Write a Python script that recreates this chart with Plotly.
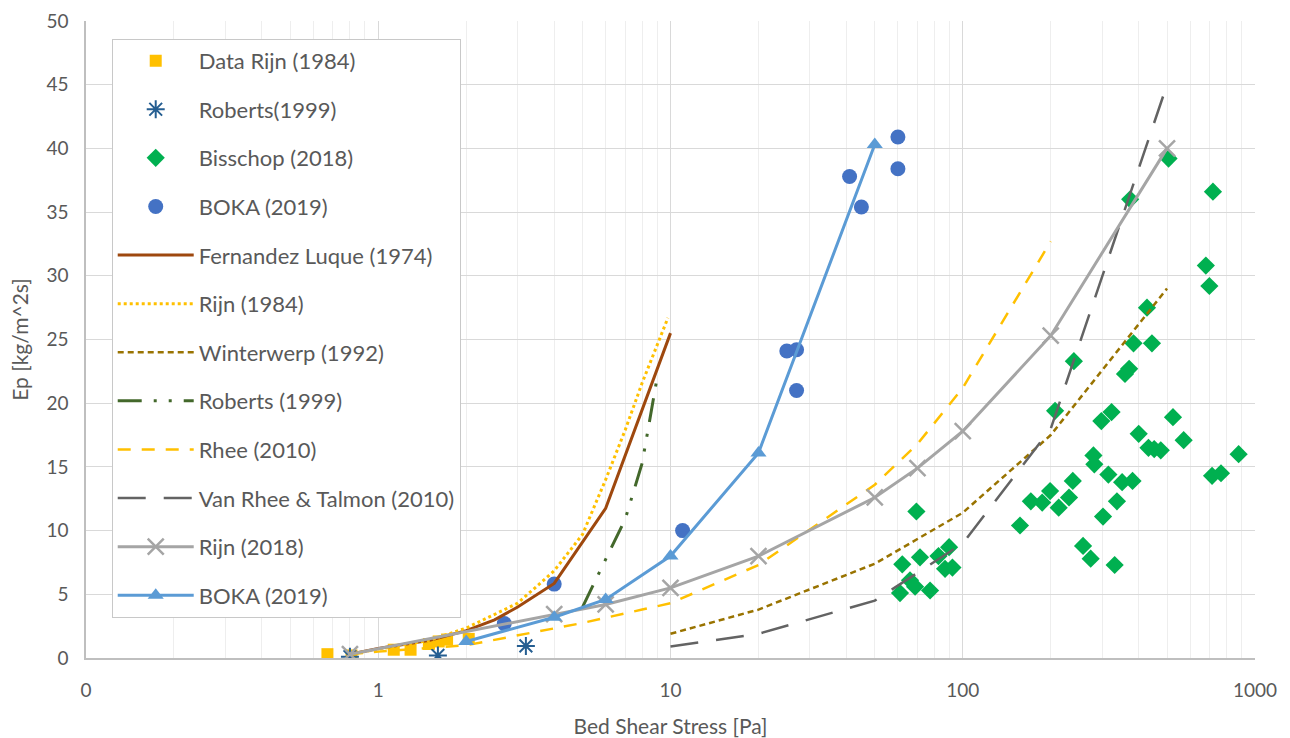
import plotly.graph_objects as go

# ---- measured data -------------------------------------------------------
rijn84_data_x = [0.67, 0.81, 1.13, 1.29, 1.49, 1.61, 1.72, 2.04]
rijn84_data_y = [0.3, 0.2, 0.65, 0.65, 1.1, 1.3, 1.45, 1.5]

roberts_data_x = [0.8, 1.6, 3.2]
roberts_data_y = [0.1, 0.2, 0.95]

bisschop_x = [506, 374, 718, 679, 698, 427, 384, 444, 240, 371, 359, 207, 323,
              298, 524, 400, 570, 432, 452, 476, 879, 280, 282, 315, 713, 765,
              351, 381, 238, 199, 231, 171, 187, 337, 69.4, 213, 157, 302, 258,
              274, 331, 62.1, 71.4, 82.6, 89.8, 87, 92.2, 66, 68.7, 61, 77.3]
bisschop_y = [39.2, 36.0, 36.6, 30.8, 29.2, 27.5, 24.7, 24.7, 23.3, 22.7, 22.3,
              19.4, 19.3, 18.6, 18.9, 17.6, 17.1, 16.5, 16.4, 16.3, 16.0, 15.9,
              15.2, 14.4, 14.3, 14.5, 13.8, 13.9, 13.9, 13.1, 12.6, 12.3, 12.2,
              12.3, 11.5, 11.8, 10.4, 11.1, 8.8, 7.8, 7.3, 7.35, 7.9, 8.0, 8.7,
              7.0, 7.1, 6.1, 5.6, 5.1, 5.3]

boka_data_x = [2.7, 4, 11, 25, 27, 27, 41, 45, 60, 60]
boka_data_y = [2.7, 5.8, 10.0, 24.1, 24.2, 21.0, 37.8, 35.4, 40.9, 38.4]

fernandez_x = [0.8, 1, 1.5, 2, 2.5, 3, 4, 6, 10]
fernandez_y = [0.3, 0.75, 1.4, 2.15, 3.0, 4.0, 5.85, 11.75, 25.5]

rijn84_x = [0.8, 1, 1.5, 2, 3, 4, 5, 6, 7, 8, 9, 9.8]
rijn84_y = [0.3, 0.7, 1.4, 2.35, 4.3, 6.85, 9.7, 14.0, 17.9, 21.6, 24.6, 26.7]

winterwerp_x = [10, 20, 50, 100, 200, 500]
winterwerp_y = [1.9, 3.8, 7.4, 11.4, 17.5, 29.0]

roberts_x = [5, 6, 7, 8, 9]
roberts_y = [4.0, 7.8, 10.9, 15.3, 22.0]

rhee_x = [0.8, 1, 2, 3, 5, 8, 10, 20, 50, 70, 100, 200]
rhee_y = [0.3, 0.5, 1.0, 1.8, 2.75, 3.8, 4.3, 7.3, 13.6, 16.8, 21.2, 32.7]

vrt_x = [10, 20, 50, 100, 200, 500]
vrt_y = [0.9, 1.9, 4.5, 9.0, 18.0, 45.0]

rijn18_x = [0.8, 4, 6, 10, 20, 50, 70, 100, 200, 500]
rijn18_y = [0.3, 3.45, 4.2, 5.5, 8.0, 12.6, 14.9, 17.8, 25.3, 40.0]

boka_x = [2, 4, 6, 10, 20, 50]
boka_y = [1.3, 3.2, 4.6, 8.0, 16.1, 40.3]

x_tick_vals = [0.1, 1, 10, 100, 1000]
x_tick_text = ["0", "1", "10", "100", "1000"]

FONT = "Lato"
TXT = "#595959"

fig = go.Figure()
_group = [0]

def next_group():
    _group[0] += 1
    return "g%02d" % _group[0]

def pts(name, x, y, symbol, color, size, line_w=0):
    mk = dict(symbol=symbol, size=size, color=color)
    if line_w:
        mk["line"] = dict(color=color, width=line_w)
    fig.add_trace(go.Scatter(x=x, y=y, mode="markers", name=name,
                             legendgroup=next_group(), marker=mk))

def curve(name, x, y, color, width, dash="solid", marker=None):
    kw = dict(x=x, y=y, name=name, legendgroup=next_group(),
              line=dict(color=color, width=width, dash=dash))
    if marker:
        kw["mode"] = "lines+markers"
        kw["marker"] = marker
    else:
        kw["mode"] = "lines"
    fig.add_trace(go.Scatter(**kw))

pts("Data Rijn (1984)", rijn84_data_x, rijn84_data_y, "square", "#FFC000", 12)
pts("Roberts(1999)", roberts_data_x, roberts_data_y, "asterisk-open", "#255E91", 15, 2)
pts("Bisschop (2018)", bisschop_x, bisschop_y, "diamond", "#00B050", 14)
pts("BOKA (2019)", boka_data_x, boka_data_y, "circle", "#4472C4", 15)

curve("Fernandez Luque (1974)", fernandez_x, fernandez_y, "#9E480E", 3)
curve("Rijn (1984)", rijn84_x, rijn84_y, "#FFC000", 3, "dot")
curve("Winterwerp (1992)", winterwerp_x, winterwerp_y, "#997300", 2.5, "6px,4px")
curve("Roberts (1999)", roberts_x, roberts_y, "#43682B", 3,
      "24px,12px,3px,12px,3px,12px")
curve("Rhee (2010)", rhee_x, rhee_y, "#FFC000", 2.5, "13px,11px")
curve("Van Rhee & Talmon (2010)", vrt_x, vrt_y, "#636363", 2.5, "28px,18px")
curve("Rijn (2018)", rijn18_x, rijn18_y, "#A5A5A5", 3,
      marker=dict(symbol="x-thin-open", size=16,
                  line=dict(color="#A5A5A5", width=2.5)))
curve("BOKA (2019)", boka_x, boka_y, "#5B9BD5", 3,
      marker=dict(symbol="triangle-up", size=14, color="#5B9BD5"))

minor_vals = [m * 10 ** d for d in range(-1, 3) for m in range(2, 10)]

fig.update_layout(
    width=1290, height=738, autosize=False,
    margin=dict(l=86, r=35, t=21, b=80),
    paper_bgcolor="white", plot_bgcolor="white",
    font=dict(family=FONT, size=19, color=TXT),
    showlegend=True,
    legend=dict(
        x=0.022, y=0.972, xanchor="left", yanchor="top",
        bgcolor="white", bordercolor="#c8c8c8", borderwidth=1,
        font=dict(family=FONT, size=22, color=TXT),
        traceorder="grouped", tracegroupgap=17, itemwidth=76,
    ),
    xaxis=dict(
        type="log", range=[-1, 3], automargin=False,
        tickmode="array", tickvals=x_tick_vals, ticktext=x_tick_text,
        showgrid=True, gridcolor="#d9d9d9", gridwidth=1.2,
        minor=dict(tickmode="array", tickvals=minor_vals, showgrid=True,
                   gridcolor="#eeeeee", gridwidth=1, ticks=""),
        showline=True, linecolor="#bfbfbf", linewidth=1.5,
        ticks="", zeroline=False,
        tickfont=dict(family=FONT, size=19, color=TXT),
        ticklabelstandoff=14,
        title=dict(text="Bed Shear Stress [Pa]", standoff=20,
                   font=dict(family=FONT, size=21, color=TXT)),
    ),
    yaxis=dict(
        range=[0, 50], dtick=5, tick0=0, automargin=False,
        showgrid=True, gridcolor="#d9d9d9", gridwidth=1.2,
        showline=True, linecolor="#bfbfbf", linewidth=1.5,
        ticks="", zeroline=False,
        tickfont=dict(family=FONT, size=19, color=TXT),
        ticklabelstandoff=12,
        title=dict(text="Ep [kg/m^2s]", standoff=12,
                   font=dict(family=FONT, size=21, color=TXT)),
    ),
)

fig.write_html("out.html")
